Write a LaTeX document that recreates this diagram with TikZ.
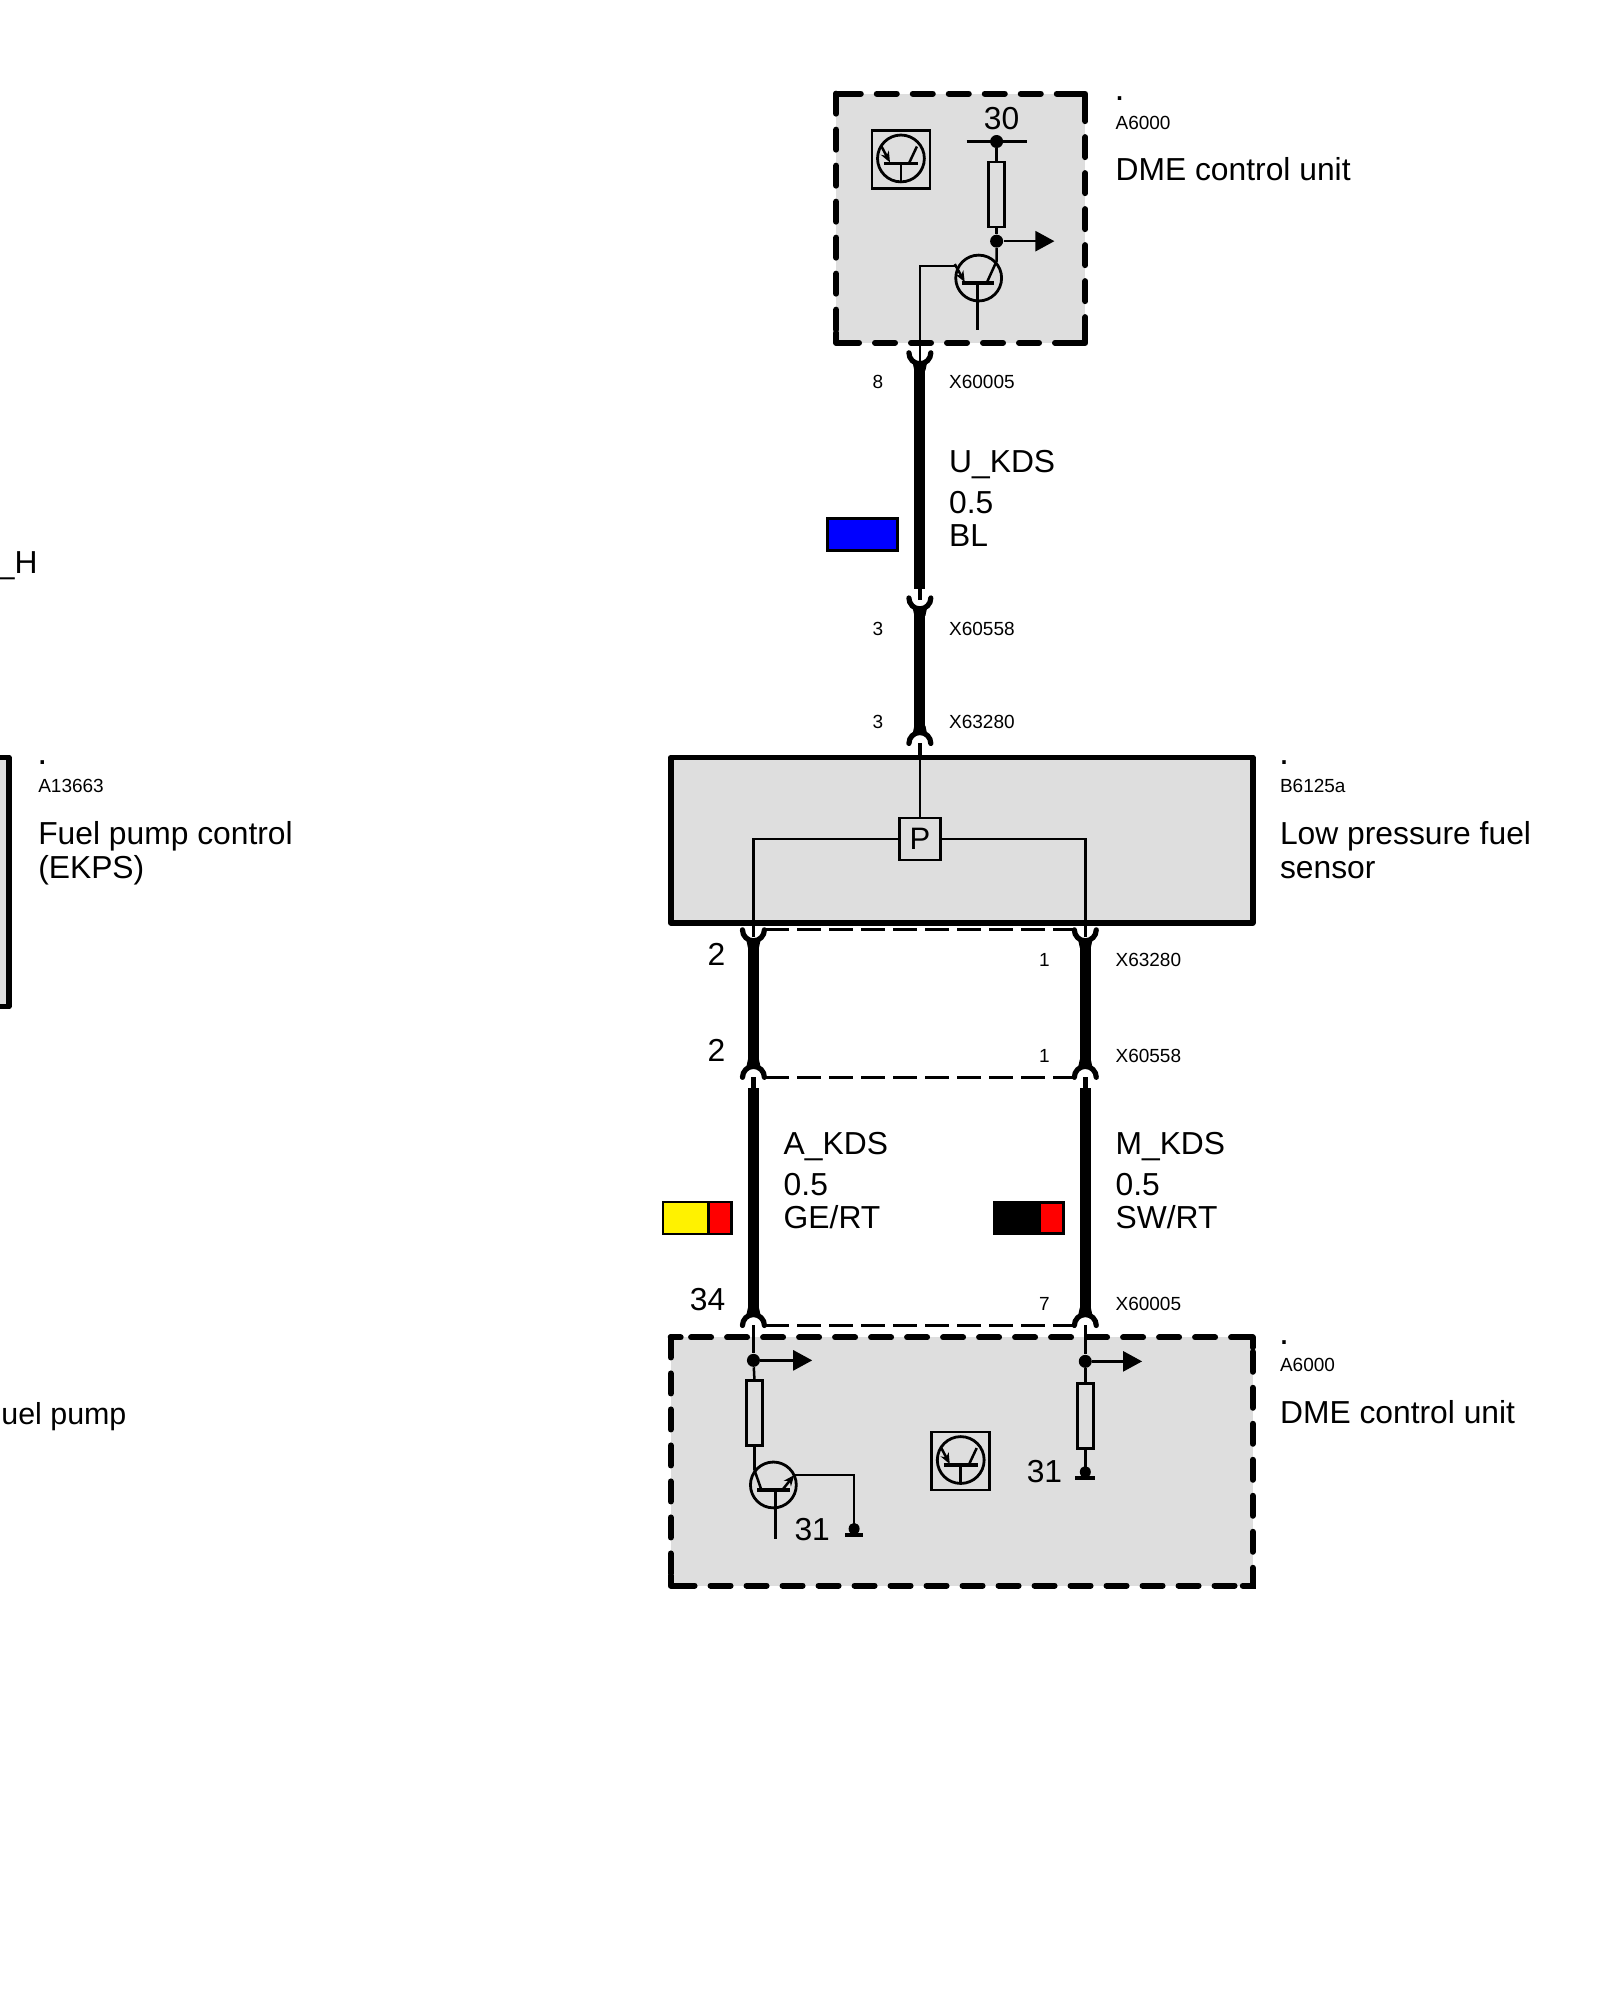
\documentclass[tikz,border=0pt]{standalone}
\usepackage{fontspec}
\setmainfont{Liberation Sans}
\usetikzlibrary{arrows.meta}
\definecolor{boxgray}{RGB}{222,222,222}
\tikzset{
  ctrlbox/.style={draw=black,fill=boxgray,line width=3pt,dash pattern=on 10pt off 8pt,line cap=round},
  solidbox/.style={draw=black,fill=boxgray,line width=2.8pt,line join=round},
  harness/.style={line width=5.5pt},
  wire/.style={line width=1.25pt},
  stub/.style={line width=2.3pt},
  forkline/.style={line width=2.6pt,line cap=round},
  link/.style={line width=1.5pt,dash pattern=on 12pt off 4pt},
  bigtext/.style={font=\fontsize{15.9}{15.9}\selectfont,inner sep=0pt,anchor=base west},
  smalltext/.style={font=\fontsize{9.5}{9.5}\selectfont,inner sep=0pt,anchor=base west},
  dottext/.style={font=\fontsize{18}{18}\selectfont,inner sep=0pt,anchor=base west},
  bigpin/.style={font=\fontsize{15.9}{15.9}\selectfont,inner sep=0pt,anchor=base},
  smallpin/.style={font=\fontsize{9.5}{9.5}\selectfont,inner sep=0pt,anchor=base},
  resistor/.style={draw=black,fill=boxgray,line width=1.25pt,minimum width=8pt,minimum height=32.5pt,inner sep=0pt},
  dotj/.style={circle,fill=black,inner sep=0pt,minimum size=6.5pt},
  swatch/.style={draw=black,line width=1.2pt},
  tout/.style={-{Triangle[length=9.5pt,width=10pt]},line width=1.25pt},
  emit/.style={-{Stealth[length=5.5pt,width=4.5pt]},line width=1.25pt},
  iconbox/.style={draw=black,line width=1.3pt,minimum width=29pt,minimum height=29pt,inner sep=0pt},
  tbody/.style={draw=black,line width=1.4pt},
  cornerl/.style={line width=3pt,line cap=round,line join=round},
}
% Fork connectors: \forkU = open upward, \forkA = open downward, with shoulders onto the wire
\newcommand{\forkU}[2]{\draw[forkline] (#1-11,#2) arc[start angle=180,end angle=0,radius=11];
  \fill (#1-7,#2+11) -- (#1+7,#2+11) -- (#1+5.5,#2+18) -- (#1-5.5,#2+18) -- cycle;}
\newcommand{\forkA}[2]{\draw[forkline] (#1-11,#2) arc[start angle=180,end angle=360,radius=11];
  \fill (#1-7,#2-11) -- (#1+7,#2-11) -- (#1+5.5,#2-18) -- (#1-5.5,#2-18) -- cycle;}
% dashed control-unit box with solid corners
\newcommand{\unitbox}[4]{\draw[ctrlbox] (#1,#2) rectangle (#3,#4);
  \draw[cornerl] (#1,#2+10) -- (#1,#2) -- (#1+10,#2);
  \draw[cornerl] (#3-10,#2) -- (#3,#2) -- (#3,#2+10);
  \draw[cornerl] (#3,#4-10) -- (#3,#4) -- (#3-10,#4);
  \draw[cornerl] (#1+10,#4) -- (#1,#4) -- (#1,#4-10);}
% icon transistor symbol at centre
\newcommand{\icon}[2]{%
  \draw[tbody] (#1,#2) ellipse [x radius=23.5,y radius=23.5];
  \draw[line width=1.6pt] (#1-17,#2+5) -- (#1+17,#2+5);
  \draw[wire] (#1,#2+5) -- (#1,#2+24);
  \draw[wire] (#1+8,#2+5) -- (#1+16,#2-12);
  \draw[emit] (#1-20,#2-13) -- (#1-11,#2+4);
}
\begin{document}
\begin{tikzpicture}[x=0.4983pt,y=-0.4983pt]
\useasboundingbox (0,0) rectangle (1605.46,2006.82);
\fill[white] (0,0) rectangle (1605.46,2006.82);
% --- boxes
\unitbox{839}{94}{1089}{344}
\draw[solidbox] (673,760) rectangle (1257,926);
\unitbox{673}{1342}{1257}{1591}
\draw[solidbox] (-20,760) -- (9,760) -- (9,1010) -- (-20,1010);
% --- named points
\coordinate (a1) at (923,362);
\coordinate (a2) at (923,591);
\coordinate (b1) at (923,608);
\coordinate (b2) at (923,736);
\coordinate (l1) at (756,944);
\coordinate (l2) at (756,1070);
\coordinate (l3) at (756,1092);
\coordinate (l4) at (756,1318);
\coordinate (r1) at (1089,944);
\coordinate (r2) at (1089,1070);
\coordinate (r3) at (1089,1092);
\coordinate (r4) at (1089,1318);
% --- harness
\draw[harness] (a1) -- (a2);
\draw[harness] (b1) -- (b2);
\draw[harness] (l1) -- (l2);
\draw[harness] (l3) -- (l4);
\draw[harness] (r1) -- (r2);
\draw[harness] (r3) -- (r4);
% --- fork connectors
\forkU{923}{354}
\forkU{923}{600}
\forkA{923}{746}
\forkU{756}{933}
\forkU{1089}{933}
\forkA{756}{1081}
\forkA{1089}{1081}
\forkA{756}{1330}
\forkA{1089}{1330}
\draw[stub] (923,591) -- (923,602);
\draw[stub] (923,746) -- (923,760);
\draw[stub] (756,1081) -- (756,1092);
\draw[stub] (1089,1081) -- (1089,1092);
% --- dashed links
\draw[link] (768,933) -- (1077,933);
\draw[link] (768,1081) -- (1077,1081);
\draw[link] (768,1330) -- (1077,1330);
% --- top control unit
\node[iconbox] (ico1) at (904,160) {};
\icon{904}{159}
\node[dotj] (d30) at (1000,142) {};
\draw[wire] (970,142) -- (1030,142);
\node[resistor] (r30) at (1000,195) {};
\draw[wire] (d30) -- (r30.north);
\node[dotj] (dout) at (1000,242) {};
\draw[wire] (r30.south) -- (dout);
\draw[tout] (dout) -- (1058,242);
\draw[tbody] (982,279) ellipse [x radius=23,y radius=23];
\draw[line width=1.6pt] (965,284) -- (997,284);
\draw[wire] (981,284) -- (981,331);
\draw[wire] (dout) -- (1000,262) -- (990,284);
\draw[wire] (923,362) -- (923,267) -- (958,267);
\draw[emit] (958,265) -- (968,283);
\node[bigpin] (n30) at (1005,130) {30};
\node[dottext] (tdot) at (1118,101) {.};
\node[smalltext] (ta) at (1119,129.5) {A6000};
\node[bigtext] (tn) at (1119,181) {DME control unit};
% --- harness labels top
\node[smallpin] (p8) at (881,390) {8};
\node[smalltext] (x1) at (952,390) {X60005};
\node[bigtext] (u1) at (952,474) {U\_KDS};
\node[bigtext] (u2) at (952,515) {0.5};
\node[bigtext] (u3) at (952,548) {BL};
\node[swatch,fill=blue,minimum width=35pt,minimum height=16pt,inner sep=0pt] (swb) at (865.5,536.5) {};
\node[smallpin] (p3a) at (881,637.5) {3};
\node[smalltext] (x2) at (952,637.5) {X60558};
\node[smallpin] (p3b) at (881,731) {3};
\node[smalltext] (x3) at (952,731) {X63280};
% --- sensor
\node[draw=black,line width=1.25pt,fill=boxgray,minimum width=20.5pt,minimum height=21pt,inner sep=0pt,font=\fontsize{15.5}{15.5}\selectfont] (pbox) at (923,842) {P};
\draw[wire] (923,746) -- (pbox.north);
\draw[wire] (pbox.west) -- (756,842) -- (756,940);
\draw[wire] (pbox.east) -- (1089,842) -- (1089,940);
\node[dottext] (sdot) at (1283,767) {.};
\node[smalltext] (sa) at (1284,795) {B6125a};
\node[bigtext] (sn1) at (1284,847) {Low pressure fuel};
\node[bigtext] (sn2) at (1284,881) {sensor};
% --- left labels
\node[dottext] (ldot) at (37,767) {.};
\node[smalltext] (la) at (38,795) {A13663};
\node[bigtext] (ln1) at (38,847) {Fuel pump control};
\node[bigtext] (ln2) at (38,881) {(EKPS)};
\node[bigtext,anchor=base east] (lh) at (38,575) {\_H};
\node[bigtext,font=\fontsize{15.2}{15.2}\selectfont] (lp) at (1,1429) {uel pump};
% --- pins between sensor and unit
\node[bigpin] (p2a) at (719,969) {2};
\node[bigpin] (p2b) at (719,1065) {2};
\node[smallpin] (p1a) at (1048,970) {1};
\node[smallpin] (p1b) at (1048,1066) {1};
\node[smalltext] (x4) at (1119,970) {X63280};
\node[smalltext] (x5) at (1119,1066) {X60558};
\node[bigpin] (p34) at (710,1315) {34};
\node[smallpin] (p7) at (1048,1315) {7};
\node[smalltext] (x6) at (1119,1315) {X60005};
\node[bigtext] (aw1) at (786,1158) {A\_KDS};
\node[bigtext] (aw2) at (786,1200) {0.5};
\node[bigtext] (aw3) at (786,1233) {GE/RT};
\node[bigtext] (mw1) at (1119,1158) {M\_KDS};
\node[bigtext] (mw2) at (1119,1200) {0.5};
\node[bigtext] (mw3) at (1119,1233) {SW/RT};
\draw[swatch,fill=yellow] (665,1206) rectangle (711,1238);
\draw[swatch,fill=red] (711,1206) rectangle (734,1238);
\fill[black] (996,1205) rectangle (1069,1239);
\fill[red] (1045,1208) rectangle (1066,1236);
% --- bottom control unit
\node[iconbox] (ico2) at (964,1466) {};
\icon{964}{1465}
\node[dotj] (dl) at (756,1365) {};
\node[dotj] (dr) at (1089,1366) {};
\draw[wire] (756,1330) -- (dl);
\draw[wire] (1089,1330) -- (dr);
\draw[tout] (dl) -- (815,1365);
\draw[tout] (dr) -- (1146,1366);
\node[resistor] (rl) at (757,1418) {};
\node[resistor] (rr) at (1089,1421) {};
\draw[wire] (dl) -- (rl.north);
\draw[wire] (dr) -- (rr.north);
\draw[wire] (rl.south) -- (757,1475);
\draw[tbody] (776,1490) ellipse [x radius=23,y radius=23];
\draw[line width=1.6pt] (760,1495) -- (793,1495);
\draw[wire] (778,1495) -- (778,1544);
\draw[wire] (757,1475) -- (764,1495);
\draw[emit] (785,1495) -- (797,1480);
\draw[wire] (797,1480) -- (857,1480) -- (857,1532);
\fill[black] (857,1534) ellipse [x radius=5.5,y radius=6];
\draw[line width=1.8pt] (848,1540) -- (866,1540);
\draw[wire] (rr.south) -- (1089,1477);
\fill[black] (1089,1477) ellipse [x radius=5.5,y radius=6];
\draw[line width=1.8pt] (1079,1483) -- (1099,1483);
\node[bigpin] (g1) at (815,1546) {31};
\node[bigpin] (g2) at (1048,1488) {31};
\node[dottext] (bdot) at (1283,1349) {.};
\node[smalltext] (ba) at (1284,1376) {A6000};
\node[bigtext] (bn) at (1284,1428) {DME control unit};
\end{tikzpicture}
\end{document}
